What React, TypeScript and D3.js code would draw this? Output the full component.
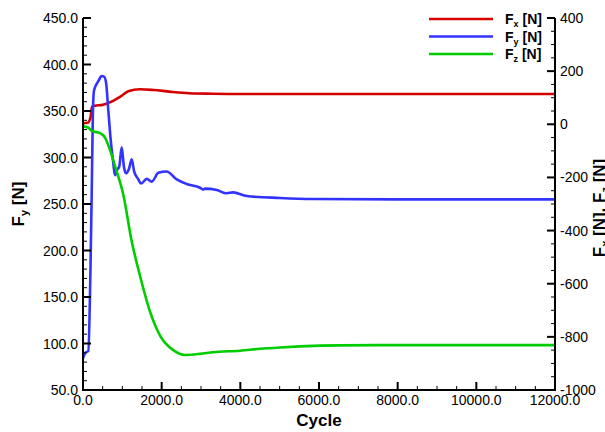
import React from "react";
import * as d3 from "d3";

// Fx (right axis)
const fxCycle = [0, 120, 190, 230, 300, 500, 700, 800, 950, 1150, 1450, 1800, 2200, 2700, 3300, 4000, 6000, 8000, 12000];
const fxValue = [4, 6, 25, 66, 70, 73, 84, 91, 104, 124, 132, 129, 123, 117, 115, 114, 114, 114, 114];

// Fy (left axis)
const fyCycle = [0, 60, 135, 190, 221, 250, 280, 389, 475, 534, 585, 643, 704, 770, 814, 870, 920, 984, 1040, 1093, 1170, 1238, 1300, 1400, 1475, 1620, 1747, 1915, 2128, 2382, 2637, 2975, 3059, 3100, 3400, 3654, 3814, 4162, 5009, 5848, 8060, 12000];
const fyValue = [84, 90, 92, 180, 260, 345, 372, 382, 387.5, 387, 381, 351, 319, 294, 281, 287, 290, 311, 290, 283, 288, 298, 285, 277, 272, 277, 274, 283.5, 285, 276.5, 271.5, 267.5, 265.5, 266.5, 265, 261.5, 262.5, 258.6, 256.5, 255.4, 255, 255];

// Fz (right axis)
const fzCycle = [0, 127, 229, 356, 458, 560, 687, 840, 1025, 1238, 1449, 1704, 1958, 2296, 2594, 2975, 3305, 3992, 4500, 5009, 5517, 6535, 8060, 12000];
const fzValue = [-8, -12, -25, -30, -35, -50, -97, -170, -265, -440, -570, -705, -795, -850, -868, -864, -858, -852, -845, -840, -836, -832, -831, -831];

const xTicks = [0, 2000, 4000, 6000, 8000, 10000, 12000];
const yLeftTicks = [50, 100, 150, 200, 250, 300, 350, 400, 450];
const yRightTicks = [-1000, -800, -600, -400, -200, 0, 200, 400];

const seriesNames = ["x", "y", "z"];
const seriesColors = ["#d40000", "#3333ff", "#00cc00"];

const W = 605, H = 432;
const L = 83, R = 555, T = 18, B = 390;
const FONT = "'Liberation Sans', Arial, sans-serif";

export default function App() {
  const x = d3.scaleLinear().domain([0, 12000]).range([L, R]);
  const yL = d3.scaleLinear().domain([50, 450]).range([B, T]);
  const yR = d3.scaleLinear().domain([-1000, 400]).range([B, T]);

  const mk = (cs: number[], vs: number[], ys: d3.ScaleLinear<number, number>) =>
    d3.line<number>().x((_, i) => x(cs[i])).y((v) => ys(v)).curve(d3.curveMonotoneX)(vs) || "";

  const paths = [mk(fxCycle, fxValue, yR), mk(fyCycle, fyValue, yL), mk(fzCycle, fzValue, yR)];

  const xMinor = d3.range(0, 12001, 500);
  const yLMinor = d3.range(50, 451, 10);
  const yRMinor = d3.range(-1000, 401, 50);

  return (
    <svg width={W} height={H} style={{ position: "absolute", left: 0, top: 0, background: "#fff" }} fontFamily={FONT}>
      <rect x={0} y={0} width={W} height={H} fill="#fff" />
      {paths.map((d, i) => (
        <path key={i} d={d} fill="none" stroke={seriesColors[i]} strokeWidth={2.6} strokeLinejoin="round" />
      ))}
      {/* axes lines */}
      <line x1={L} x2={L} y1={T} y2={B + 1} stroke="#000" strokeWidth={2} />
      <line x1={R} x2={R} y1={T} y2={B + 1} stroke="#000" strokeWidth={2} />
      <line x1={L - 1} x2={R + 1} y1={B} y2={B} stroke="#000" strokeWidth={2} />
      {/* x ticks */}
      {xMinor.map((v) => (
        <line key={"xm" + v} x1={x(v)} x2={x(v)} y1={B} y2={B - (v % 2000 === 0 ? 8 : 4)} stroke="#000" strokeWidth={v % 2000 === 0 ? 2 : 1} />
      ))}
      {xTicks.map((v) => (
        <text key={"xt" + v} x={x(v)} y={B + 15} fontSize={14} textAnchor="middle">{v.toFixed(1)}</text>
      ))}
      {/* left ticks */}
      {yLMinor.map((v) => (
        <line key={"ylm" + v} x1={L} x2={L + (v % 50 === 0 ? 8 : 4)} y1={yL(v)} y2={yL(v)} stroke="#000" strokeWidth={v % 50 === 0 ? 2 : 1} />
      ))}
      {yLeftTicks.map((v) => (
        <text key={"ylt" + v} x={L - 5} y={yL(v) + 5} fontSize={14} textAnchor="end">{v.toFixed(1)}</text>
      ))}
      {/* right ticks */}
      {yRMinor.map((v) => (
        <line key={"yrm" + v} x1={R} x2={R - (v % 200 === 0 ? 8 : 4)} y1={yR(v)} y2={yR(v)} stroke="#000" strokeWidth={v % 200 === 0 ? 2 : 1} />
      ))}
      {yRightTicks.map((v) => (
        <text key={"yrt" + v} x={R + 5} y={yR(v) + 5} fontSize={14} textAnchor="start">{v}</text>
      ))}
      {/* axis titles */}
      <text x={(L + R) / 2} y={426} fontSize={17} fontWeight="bold" textAnchor="middle">Cycle</text>
      <text transform={`translate(24,${(T + B) / 2}) rotate(-90)`} fontSize={17} fontWeight="bold" textAnchor="middle">
        F<tspan fontSize={11} dy={4}>y</tspan><tspan dy={-4}> [N]</tspan>
      </text>
      <text transform={`translate(605,${(T + B) / 2 + 4}) rotate(-90)`} fontSize={17} fontWeight="bold" textAnchor="middle">
        F<tspan fontSize={11} dy={4}>x</tspan><tspan dy={-4}> [N], F</tspan><tspan fontSize={11} dy={4}>z</tspan><tspan dy={-4}> [N]</tspan>
      </text>
      {/* legend */}
      {seriesNames.map((n, i) => (
        <g key={"lg" + n}>
          <line x1={429} x2={493} y1={19 + i * 17.5} y2={19 + i * 17.5} stroke={seriesColors[i]} strokeWidth={2.6} />
          <text x={505} y={19 + i * 17.5 + 5} fontSize={14} fontWeight="bold">
            F<tspan fontSize={9} dy={3}>{n}</tspan><tspan dy={-3}> [N]</tspan>
          </text>
        </g>
      ))}
    </svg>
  );
}
